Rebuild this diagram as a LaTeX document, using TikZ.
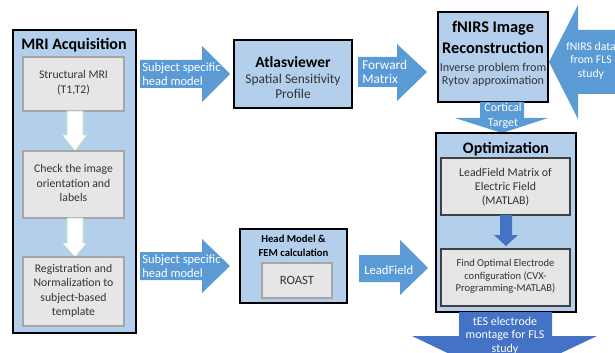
\documentclass[tikz,border=0pt]{standalone}
\usepackage{fontspec}
\setmainfont{Carlito}
\definecolor{boxblue}{HTML}{B4CFEC}
\definecolor{arrblue}{HTML}{5B9BD5}
\definecolor{darkarr}{HTML}{4472C4}
\definecolor{innergray}{HTML}{E6E6E6}
\definecolor{innerline}{HTML}{404040}
\definecolor{textgray}{HTML}{333333}
\begin{document}
\begin{tikzpicture}[x=0.75pt,y=-0.75pt,
  outerbox/.style={draw=black, line width=1.1pt, fill=boxblue},
  innerbox/.style={draw=innerline, line width=0.9pt, fill=innergray},
  innerlite/.style={draw=gray!70, line width=0.8pt, fill=innergray},
  bluearrow/.style={fill=arrblue},
  darkarrow/.style={fill=darkarr},
  whitearrow/.style={fill=white, draw=green!40!gray!40, line width=0.5pt},
  arrtext/.style={text=white, font=\fontsize{9.4}{10.5}\selectfont, align=left, inner sep=0pt},
  arrtextc/.style={text=white, font=\fontsize{8.8}{10.2}\selectfont, align=center, inner sep=0pt},
  intext/.style={text=textgray, font=\fontsize{8.8}{10.6}\selectfont, align=center, inner sep=0pt},
  titletext/.style={font=\bfseries\fontsize{12}{14}\selectfont, align=center, inner sep=0pt}
]
\useasboundingbox (0,0) rectangle (615,353);
\clip (0,0) rectangle (615,353);

% ---------- MRI Acquisition ----------
\draw[outerbox] (13,30) rectangle (136,333);
\node[titletext] (mrititle) at (74,45) {MRI Acquisition};
\draw[innerlite] (23,57) rectangle (124,111);
\node[intext, font=\fontsize{8.8}{11.2}\selectfont] (smri) at (73.5,83) {Structural MRI\\(T1,T2)};
\draw[whitearrow] (67,111) -- (83,111) -- (83,135) -- (87,135) -- (75,151) -- (62,135) -- (67,135) -- cycle;
\draw[innerlite] (23,151) -- (124,151) -- (124,218) -- (23,218) -- cycle;
\node[intext] (check) at (73.5,183) {Check the image\\orientation and\\labels};
\draw[whitearrow] (67,218) -- (83,218) -- (83,243) -- (87,243) -- (75,257) -- (62,243) -- (67,243) -- cycle;
\draw[innerlite] (23,257) rectangle (124,326);
\node[intext, font=\fontsize{8.8}{10.7}\selectfont] (reg) at (73.5,291) {Registration and\\Normalization to\\subject-based\\template};

% ---------- top row ----------
\fill[bluearrow] (140,60) -- (202,60) -- (202,46) -- (230,74) -- (202,102) -- (202,88) -- (140,88) -- cycle;
\node[arrtext, anchor=west] (subj1) at (142,74) {Subject specific\\head model};

\draw[outerbox] (234,40) rectangle (352,108);
\node[font=\bfseries\fontsize{11.6}{13}\selectfont, inner sep=0pt] (atlas) at (293,62) {Atlasviewer};
\node[font=\fontsize{10.1}{11.2}\selectfont, align=center, inner sep=0pt, text=textgray] (ssp) at (293,86.5) {Spatial Sensitivity\\Profile};

\fill[bluearrow] (358,57) -- (397,57) -- (397,44) -- (427,72) -- (397,101) -- (397,87) -- (358,87) -- cycle;
\node[arrtext, font=\fontsize{10}{10.5}\selectfont, anchor=west] (fwd) at (362,72) {Forward\\Matrix};

\draw[outerbox] (438,12) rectangle (548,102);
\node[font=\bfseries\fontsize{12.2}{15.7}\selectfont, align=center, inner sep=0pt] (fnirs) at (493,37.5) {fNIRS Image\\Reconstruction};
\node[intext, font=\fontsize{9.1}{10}\selectfont] (inv) at (493,74.5) {Inverse problem from\\Rytov approximation};

\fill[bluearrow] (549,62) -- (578,5) -- (578,30) -- (615,30) -- (615,94) -- (578,94) -- (578,119) -- cycle;
\node[arrtextc] (fdata) at (591,60.5) {fNIRS data\\from FLS\\study};

\fill[bluearrow] (480,102) -- (524,102) -- (524,118) -- (548,118) -- (502,133) -- (455,118) -- (480,118) -- cycle;
\node[arrtextc, font=\fontsize{9}{11.2}\selectfont] (cort) at (503,115.5) {Cortical\\Target};

% ---------- Optimization ----------
\draw[outerbox] (436,133) rectangle (576,312);
\node[titletext] (opt) at (506,149) {Optimization};
\draw[innerbox] (441,158) rectangle (570,215);
\node[intext, font=\fontsize{8.9}{10.5}\selectfont] (lfm) at (505.5,187) {LeadField Matrix of\\Electric Field\\(MATLAB)};
\fill[darkarrow] (500,215) -- (512,215) -- (512,235) -- (518,235) -- (506,246) -- (494,235) -- (500,235) -- cycle;
\draw[innerbox] (441,249) rectangle (570,306);
\node[intext, font=\fontsize{7.9}{9.4}\selectfont] (find) at (505.5,276.5) {Find Optimal Electrode\\configuration (CVX-\\Programming-MATLAB)};

\fill[darkarrow] (459,312) -- (552,312) -- (552,336) -- (597,336) -- (504,380) -- (412,336) -- (459,336) -- cycle;
\node[arrtextc, font=\fontsize{9}{10.1}\selectfont] (tes) at (505,335.5) {tES electrode\\montage for FLS\\study};

% ---------- bottom row ----------
\fill[bluearrow] (140,252) -- (202,252) -- (202,239) -- (230,266) -- (202,293) -- (202,280) -- (140,280) -- cycle;
\node[arrtext, anchor=west] (subj2) at (142,266.5) {Subject specific\\head model};

\draw[outerbox] (240,229) rectangle (347,303);
\node[font=\bfseries\fontsize{8}{10.5}\selectfont, align=center, inner sep=0pt] (head) at (293.5,246) {Head Model \&\\FEM calculation};
\draw[innerlite] (262,263) rectangle (332,298);
\node[intext, font=\fontsize{9.5}{11}\selectfont] (roast) at (297,280) {ROAST};

\fill[bluearrow] (359,255) -- (400,255) -- (400,240) -- (428,268) -- (400,295) -- (400,282) -- (359,282) -- cycle;
\node[arrtext, font=\fontsize{9.5}{10.5}\selectfont, anchor=west] (lf) at (364,270) {LeadField};
\end{tikzpicture}
\end{document}
